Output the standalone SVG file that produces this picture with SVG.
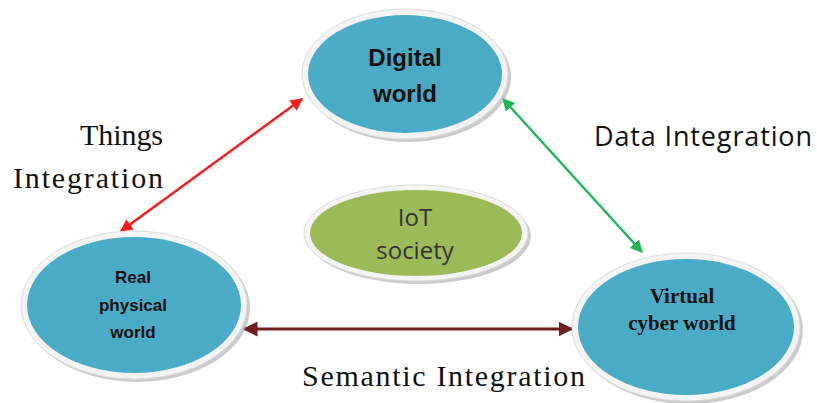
<svg xmlns="http://www.w3.org/2000/svg" width="817" height="403" viewBox="0 0 817 403">
<defs>
<style>
.shadow{fill:#a9a9a9;opacity:0.6}
.ring{fill:#f4f4f4;stroke:#dcdcdc;stroke-width:1}
.blue{fill:#4aabc6}
.green{fill:#9bbb59}
.nodeSans{font-family:"Liberation Sans",Arial,sans-serif;font-weight:bold;fill:#111;text-anchor:middle}
.nodeSerif{font-family:"Liberation Serif","Times New Roman",serif;font-weight:bold;fill:#111;text-anchor:middle}
.lblSerif{font-family:"Liberation Serif","Times New Roman",serif;font-size:30px;fill:#111}
.lblSans{font-family:"Open Sans","Liberation Sans",sans-serif;font-size:27px;fill:#111}
.iot{font-family:"Open Sans","Liberation Sans",sans-serif;font-size:24px;fill:#333;text-anchor:middle}
</style>
<marker id="aRed" viewBox="0 0 10 10" refX="9" refY="5" markerWidth="5" markerHeight="5" orient="auto-start-reverse" markerUnits="strokeWidth"><path d="M0,0 L10,5 L0,10 Z" fill="#ff1a1a"/></marker>
<marker id="aGreen" viewBox="0 0 10 10" refX="9" refY="5" markerWidth="5" markerHeight="5" orient="auto-start-reverse" markerUnits="strokeWidth"><path d="M0,0 L10,5 L0,10 Z" fill="#1db954"/></marker>
<marker id="aBrown" viewBox="0 0 10 10" refX="9" refY="5" markerWidth="5" markerHeight="5" orient="auto-start-reverse" markerUnits="strokeWidth"><path d="M0,0 L10,5 L0,10 Z" fill="#6e1f1f"/></marker>
</defs>
<rect width="817" height="403" fill="#ffffff"/>

<g id="connectors">
<line x1="121" y1="231" x2="302" y2="99" stroke="#ff1a1a" stroke-width="2.5" marker-start="url(#aRed)" marker-end="url(#aRed)"/>
<line x1="503" y1="99" x2="642" y2="252" stroke="#1db954" stroke-width="2.5" marker-start="url(#aGreen)" marker-end="url(#aGreen)"/>
<line x1="244" y1="329" x2="572" y2="329" stroke="#6e1f1f" stroke-width="3" marker-start="url(#aBrown)" marker-end="url(#aBrown)"/>
</g>

<g id="digital-world">
<ellipse class="shadow" cx="408" cy="77" rx="103" ry="65"/>
<ellipse class="ring" cx="405" cy="74" rx="103" ry="65"/>
<ellipse class="blue" cx="405" cy="74" rx="97" ry="59"/>
<text class="nodeSans" x="405" y="66" font-size="24">Digital</text>
<text class="nodeSans" x="405" y="102" font-size="24">world</text>
</g>

<g id="real-physical-world">
<ellipse class="shadow" cx="137" cy="308" rx="113" ry="74"/>
<ellipse class="ring" cx="134" cy="305" rx="113" ry="74"/>
<ellipse class="blue" cx="134" cy="305" rx="107" ry="68"/>
<text class="nodeSans" x="133" y="283" font-size="17">Real</text>
<text class="nodeSans" x="133" y="311" font-size="17">physical</text>
<text class="nodeSans" x="133" y="338" font-size="17">world</text>
</g>

<g id="virtual-cyber-world">
<ellipse class="shadow" cx="689" cy="330" rx="114" ry="74"/>
<ellipse class="ring" cx="686" cy="327" rx="114" ry="74"/>
<ellipse class="blue" cx="686" cy="327" rx="108" ry="68"/>
<text class="nodeSerif" x="682" y="303" font-size="21">Virtual</text>
<text class="nodeSerif" x="682" y="330" font-size="21">cyber world</text>
</g>

<g id="iot-society">
<ellipse class="shadow" cx="419" cy="236" rx="112" ry="48"/>
<ellipse class="ring" cx="416" cy="233" rx="112" ry="48"/>
<ellipse class="green" cx="416" cy="233" rx="106" ry="43"/>
<text class="iot" x="415" y="226">IoT</text>
<text class="iot" x="415" y="259">society</text>
</g>

<g id="labels">
<text class="lblSerif" x="80" y="145" textLength="83">Things</text>
<text class="lblSerif" x="13" y="188" textLength="150">Integration</text>
<text class="lblSans" x="594" y="146" textLength="218">Data Integration</text>
<text class="lblSerif" x="302" y="386" textLength="283">Semantic Integration</text>
</g>
</svg>
